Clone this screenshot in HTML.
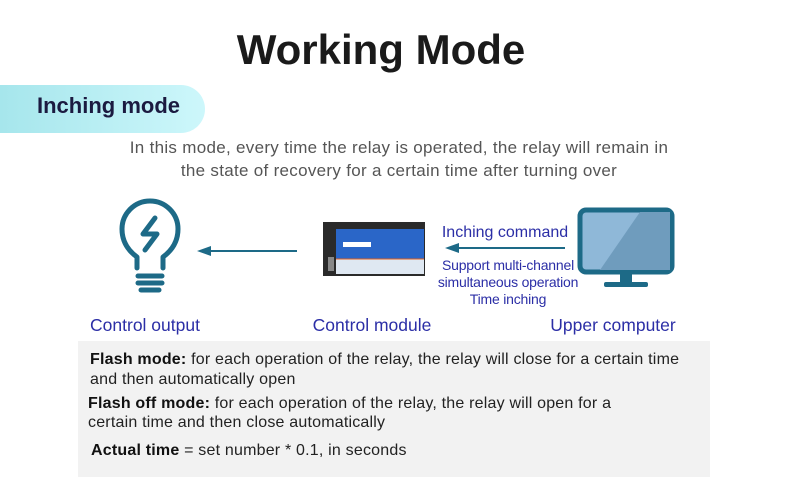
<!DOCTYPE html>
<html><head><meta charset="utf-8"><style>
body{margin:0;width:790px;height:477px;background:#fff;position:relative;overflow:hidden;font-family:"Liberation Sans",sans-serif}
.a{position:absolute;white-space:nowrap}
.c{transform:translateX(-50%)}
.lbl{color:#2b2ea6;font-size:17.5px}
.g{position:absolute;left:78px;top:341px;width:632px;height:136px;background:#f2f2f2}
.g div{position:absolute;left:12px;font-size:16px;color:#222;letter-spacing:0.2px;white-space:nowrap}
.g b{color:#111}
</style></head><body>
<div class="a c" style="left:381px;top:26px;font-size:42px;font-weight:bold;color:#1a1a1a">Working Mode</div>
<div class="a" style="left:0;top:85px;width:205px;height:48px;border-radius:0 24px 24px 0;background:linear-gradient(90deg,#a6e6ec,#cdf7fb)"></div>
<div class="a" style="left:37px;top:93px;font-size:22px;font-weight:bold;color:#1b1a40">Inching mode</div>
<div class="a c" style="left:399px;top:136px;font-size:17px;letter-spacing:0.3px;color:#555;text-align:center;line-height:23px">In this mode, every time the relay is operated, the relay will remain in<br>the state of recovery for a certain time after turning over</div>

<svg class="a" style="left:0;top:0" width="790" height="340">
<g fill="none" stroke="#1d6a87" stroke-width="5" stroke-linecap="round" stroke-linejoin="round">
<path d="M137 268 L137 257 Q122 246 122 229 A28 28 0 1 1 178 229 Q178 246 163 257 L163 268"/>
<path d="M155 218 L143 234 L157 234 L145 250"/>
<line x1="138" y1="276" x2="162" y2="276"/><line x1="138" y1="283" x2="162" y2="283"/><line x1="141" y1="290" x2="159" y2="290"/>
</g>
<line x1="210" y1="251" x2="297" y2="251" stroke="#1d6a87" stroke-width="2"/>
<polygon points="197,251 211,246 211,256" fill="#1d6a87"/>
<line x1="458" y1="248" x2="565" y2="248" stroke="#1d6a87" stroke-width="2"/>
<polygon points="445,248 459,243 459,253" fill="#1d6a87"/>
<rect x="323" y="222" width="102" height="54" fill="#2a2a2a"/>
<rect x="336" y="229" width="88" height="30" fill="#2a66c8"/>
<rect x="343" y="242" width="28" height="5" fill="#fff"/>
<rect x="336" y="259" width="88" height="15" fill="#dfe8f2"/>
<line x1="336" y1="259" x2="424" y2="259" stroke="#e06020" stroke-width="1"/>
<rect x="328" y="257" width="6" height="14" fill="#888"/>
<rect x="580" y="210" width="92" height="62" rx="6" fill="#8fb8d8" stroke="#1d6a87" stroke-width="5"/>
<polygon points="640,212 670,212 670,270 600,270" fill="#6f9cbd"/>
<rect x="620" y="274" width="12" height="9" fill="#1d6a87"/>
<rect x="604" y="282" width="44" height="5" rx="2" fill="#1d6a87"/>
</svg>
<div class="a c" style="left:505px;top:224px;font-size:16px;color:#2b2ea6">Inching command</div>
<div class="a c" style="left:508px;top:257px;font-size:14px;color:#2b2ea6;text-align:center;line-height:17px;letter-spacing:-0.2px">Support multi-channel<br>simultaneous operation<br>Time inching</div>
<div class="a c lbl" style="left:145px;top:315px">Control output</div>
<div class="a c lbl" style="left:372px;top:315px">Control module</div>
<div class="a c lbl" style="left:613px;top:315px">Upper computer</div>

<div class="g">
<div style="top:10px"><b>Flash mode:</b> for each operation of the relay, the relay will close for a certain time</div>
<div style="top:30px">and then automatically open</div>
<div style="top:54px;left:10px"><b>Flash off mode:</b> for each operation of the relay, the relay will open for a</div>
<div style="top:73px;left:10px">certain time and then close automatically</div>
<div style="top:101px;left:13px"><b>Actual time</b> = set number * 0.1, in seconds</div>
</div>
</body></html>
